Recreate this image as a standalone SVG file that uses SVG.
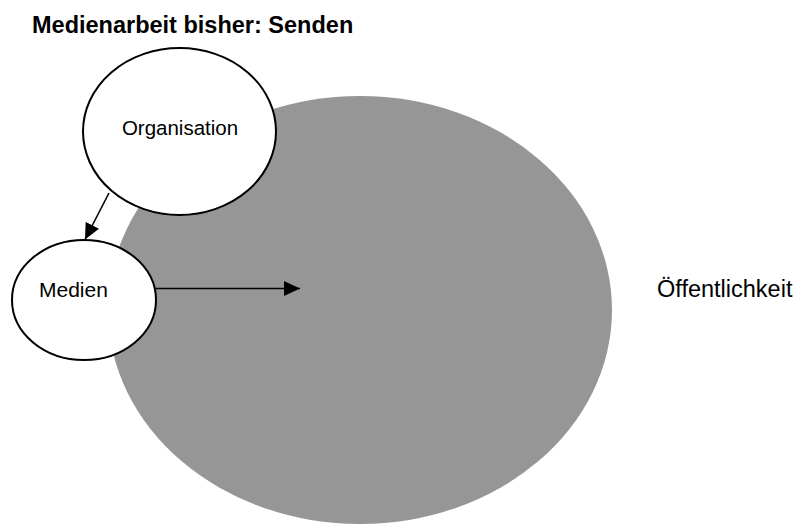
<svg xmlns="http://www.w3.org/2000/svg" width="799" height="525" viewBox="0 0 799 525">
<style>
.t{font-family:"Liberation Sans",Arial,sans-serif;fill:#000}
.n{fill:#fff;stroke:#000;stroke-width:2}
.c{stroke:#000;stroke-width:1.6;fill:none}
</style>
<defs>
<marker id="ah" markerUnits="userSpaceOnUse" markerWidth="16" markerHeight="15" refX="16" refY="7.5" orient="auto">
<path d="M0,0 L16,7.5 L0,15 Z" fill="#000"/>
</marker>
</defs>
<rect width="799" height="525" fill="#fff"/>
<text class="t" x="32" y="33" font-size="23.5" font-weight="bold">Medienarbeit bisher: Senden</text>
<g id="oeffentlichkeit">
<ellipse cx="360" cy="310" rx="252" ry="214" fill="#969696"/>
<text class="t" x="657" y="297" font-size="23.5">Öffentlichkeit</text>
</g>
<g id="organisation">
<ellipse class="n" cx="179.5" cy="131.5" rx="96.5" ry="83.5"/>
<text class="t" x="180" y="134.5" font-size="20.5" text-anchor="middle">Organisation</text>
</g>
<g id="medien">
<ellipse class="n" cx="84" cy="300" rx="72" ry="60"/>
<text class="t" x="39" y="297" font-size="21">Medien</text>
</g>
<g id="connectors">
<line class="c" x1="109" y1="193" x2="85" y2="239.5" marker-end="url(#ah)"/>
<line class="c" x1="156" y1="288.5" x2="300" y2="288.5" marker-end="url(#ah)"/>
</g>
</svg>
